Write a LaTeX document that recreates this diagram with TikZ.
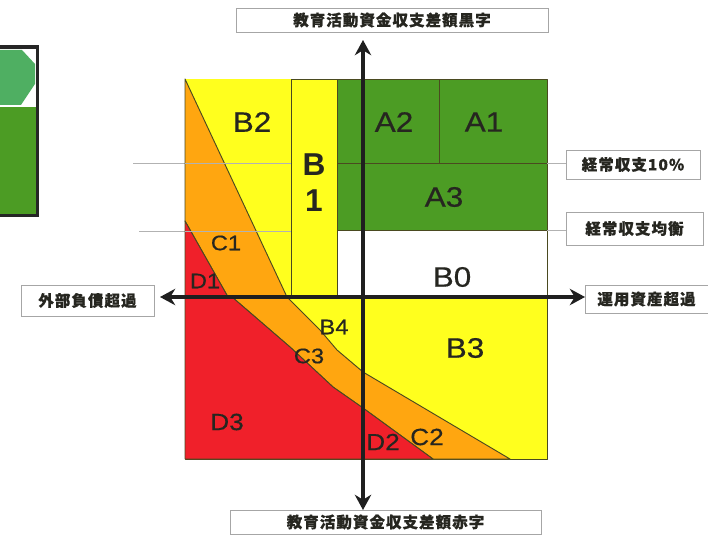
\documentclass[tikz,border=0pt]{standalone}
\usepackage{fontspec}
\setmainfont{Liberation Sans}
\newfontfamily\jpfont[LetterSpace=7,BoldFeatures={FakeBold=0.7}]{Noto Sans CJK JP}
\newfontfamily\zonefont[FakeStretch=1.12,FakeBold=0.5]{Liberation Sans}
\usetikzlibrary{arrows.meta,positioning,calc}
\definecolor{zonegreen}{HTML}{4C9C24}
\definecolor{zonelight}{HTML}{4FAF62}
\definecolor{zoneyellow}{HTML}{FFFF1E}
\definecolor{zoneorange}{HTML}{FFA610}
\definecolor{zonered}{HTML}{F0202A}
\definecolor{zoneline}{HTML}{4A4A20}
\definecolor{inktext}{HTML}{262620}
\newcommand{\px}{0.03cm}
\tikzset{
    zone/.style={draw=zoneline, line width=0.8pt, line join=round},
    axisline/.style={draw=black!88, line width=3pt, {Stealth[length=13pt,width=14pt]}-{Stealth[length=13pt,width=14pt]}},
    guide/.style={draw=gray!60, line width=0.5pt},
    lblbox/.style={draw=gray!70, line width=0.6pt, fill=white, inner sep=0pt,
        font=\jpfont\bfseries\fontsize{13.2}{15}\selectfont, text=inktext},
    bigzone/.style={inner sep=0pt, text=inktext, font=\zonefont\fontsize{24}{24}\selectfont},
    smallzone/.style={inner sep=0pt, text=inktext, font=\zonefont\fontsize{20}{20}\selectfont},
    tinyzone/.style={inner sep=0pt, text=inktext, font=\zonefont\fontsize{18}{18}\selectfont},
    boldzone/.style={inner sep=0pt, text=inktext, font=\bfseries\fontsize{27}{27}\selectfont}
}
\begin{document}
\begin{tikzpicture}[x=0.03cm, y=-0.03cm]
    \useasboundingbox (0,0) rectangle (708,540);

    % Cut off panel at the left edge
    \fill[zonegreen] (0,107) rectangle (36,214);
    \fill[zonelight] (0,50) -- (22,50) -- (35,64) -- (35,84) -- (21,105) -- (0,105) -- cycle;
    \draw[black!85, line width=3pt] (0,47) -- (37.5,47) -- (37.5,215.5) -- (0,215.5);

    % Guide lines behind the square
    \draw[guide] (133,163) -- (291,163);
    \draw[guide] (139,231) -- (291,231);

    % Upper half
    \fill[zoneyellow] (185,79) rectangle (291,297);
    \draw[zone, fill=zoneyellow] (291,79) rectangle (337,297);
    \draw[zone, fill=zonegreen] (337,79) rectangle (439,163);
    \draw[zone, fill=zonegreen] (439,79) rectangle (547,163);
    \draw[zone, fill=zonegreen] (337,163) rectangle (547,230);
    \draw[zone, fill=white] (337,230) rectangle (547,297);

    % Lower half
    \draw[zone, fill=zoneyellow] (185,297) rectangle (547,459);

    % Diagonal bands
    \draw[zone, fill=zoneorange] (185,79) -- (287,297) -- (228,297) -- (185,221) -- cycle;
    \draw[zone, fill=zonered] (185,221) -- (228,297) -- (185,297) -- cycle;
    \draw[zone, fill=zoneorange] (287,297) -- (320,330) -- (337,350) -- (363,372) -- (510,459)
        -- (433,459) -- (363,408) -- (333,387) -- (290,347) -- (232,297) -- cycle;
    \draw[zone, fill=zonered] (232,297) -- (290,347) -- (333,387) -- (363,408) -- (433,459)
        -- (185,459) -- (185,297) -- cycle;
    \draw[guide] (185,163) -- (291,163);
    \draw[guide] (185,231) -- (291,231);

    % Label boxes
    \foreach \x/\y/\w/\h/\name/\txt in {392/20/312/24/lblTop/教育活動資金収支差額黒字,
        385.5/522/311/24/lblBottom/教育活動資金収支差額赤字,
        87.5/300.5/133/31/lblLeft/外部負債超過,
        646.5/299/123/28/lblRight/運用資産超過,
        633/164.5/134/29/lblTen/経常収支10\%,
        634.5/228.5/137/33/lblEven/経常収支均衡}
        \node[lblbox, minimum width=\w*\px, minimum height=\h*\px] (\name) at (\x,\y) {\txt};

    % Lines out to the boxes
    \draw[guide] (547,163) -- (lblTen.west |- 547,163);
    \draw[guide] (547,230) -- (lblEven.west |- 547,230);

    % Axes
    \coordinate (axisLeft) at (160,297);
    \coordinate (axisRight) at (585,297);
    \coordinate (axisTop) at (363,40);
    \coordinate (axisBottom) at (363,510);
    \draw[axisline] (axisLeft) -- (axisRight);
    \draw[axisline] (axisTop) -- (axisBottom);

    % Zone names
    \foreach \x/\y/\name in {252/122/B2, 394/122/A2, 484/122/A1, 444/197/A3, 452/277/B0, 465/348/B3}
        \node[bigzone] (zone\name) at (\x,\y) {\name};
    \foreach \x/\y/\name in {227/422/D3, 383/442/D2, 427/437/C2}
        \node[smallzone] (zone\name) at (\x,\y) {\name};
    \foreach \x/\y/\name in {334/327/B4, 309/356/C3, 226/243/C1, 205/281/D1}
        \node[tinyzone] (zone\name) at (\x,\y) {\name};
    \node[boldzone] (zoneBa) at (314,165) {B};
    \node[boldzone] (zoneBb) at (314,201) {1};
\end{tikzpicture}
\end{document}
